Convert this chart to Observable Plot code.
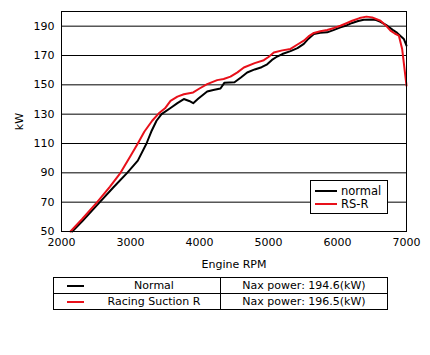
<!DOCTYPE html>
<html>
<head>
<meta charset="utf-8">
<script src="https://cdn.jsdelivr.net/npm/d3@7"></script>
<script src="https://cdn.jsdelivr.net/npm/@observablehq/plot@0.6"></script>
<style>
  html, body { margin: 0; padding: 0; background: #fff; }
  body { width: 430px; height: 355px; font-family: "DejaVu Sans", Verdana, sans-serif; color: #000; }
  #wrap { position: relative; width: 430px; height: 355px; }
  #chart { position: absolute; left: 0; top: 0; }
  .leg { position: absolute; left: 310px; top: 180px; width: 76px; height: 32px; border: 1px solid #000; background: #fff; font-size: 11.5px; }
  .leg .row { position: absolute; left: 0; height: 14px; line-height: 14px; }
  .leg .sw { position: absolute; left: 4px; top: 6px; width: 22px; height: 2px; }
  .leg .tx { position: absolute; left: 30px; top: 0; white-space: nowrap; }
  table.tb { position: absolute; left: 53px; top: 277px; border-collapse: collapse; font-size: 11px; }
  table.tb td { border: 1px solid #000; height: 15px; padding: 0; line-height: 15px; }
  .swt { display: inline-block; width: 17px; height: 2px; vertical-align: middle; }
</style>
</head>
<body>
<div id="wrap">
  <div id="chart"></div>
  <div class="leg" id="leg"></div>
  <table class="tb" id="tb"></table>
</div>
<script>
// ---- data ----
const seriesNames = ["normal", "RS-R"];
const tableNames = ["Normal", "Racing Suction R"];
const maxPower = [194.6, 196.5];
const seriesColors = ["#000000", "#e8101a"];

const rpmNormal = [2155, 2300, 2555, 2750, 2952, 3106, 3232, 3300, 3377, 3450, 3580, 3680, 3773, 3850, 3909, 3980, 4111, 4200, 4304, 4362, 4507, 4600, 4691, 4800, 4900, 4981, 5050, 5126, 5200, 5319, 5420, 5512, 5580, 5657, 5750, 5851, 5950, 6043, 6130, 6213, 6300, 6381, 6502, 6560, 6623, 6720, 6800, 6865, 6961, 7000];
const kwNormal = [50, 57, 70, 80, 90, 98.3, 110, 118, 125.5, 130, 134.2, 137.5, 140.3, 139, 137.5, 140.5, 145.4, 146.5, 147.5, 151.5, 151.8, 155, 158.4, 160.5, 162, 164, 167, 169.3, 171, 173, 175, 177.9, 181.5, 184.7, 185.5, 185.8, 187.5, 189.2, 190.5, 192.2, 193.5, 194.4, 194.6, 194.2, 193, 190.3, 187.5, 185.4, 181.3, 176.7];

const rpmRS = [2130, 2300, 2517, 2700, 2855, 3000, 3106, 3200, 3314, 3420, 3500, 3580, 3680, 3773, 3909, 4000, 4111, 4256, 4350, 4449, 4550, 4643, 4800, 4932, 5000, 5077, 5200, 5319, 5420, 5512, 5580, 5657, 5750, 5851, 5950, 6043, 6130, 6213, 6320, 6420, 6502, 6623, 6700, 6768, 6830, 6889, 6937, 7000];
const kwRS = [50, 58.5, 70, 80.5, 90, 101.5, 110, 118, 125.5, 131, 134, 139.1, 142, 143.6, 144.8, 147.5, 150.5, 153.2, 154, 155.6, 158.5, 161.8, 164.8, 166.8, 169, 172, 173.5, 174.5, 177.5, 180.1, 183, 185.4, 186.5, 187.4, 188.8, 190.3, 192, 193.7, 195.5, 196.5, 196, 193.7, 190.5, 187, 185, 183.6, 174.5, 149.5];

const xTicks = [2000, 3000, 4000, 5000, 6000, 7000];
const yTicks = [50, 70, 90, 110, 130, 150, 170, 190];

// ---- build tables ----
const normal = rpmNormal.map((r, i) => ({rpm: r, kw: kwNormal[i]}));
const rs = rpmRS.map((r, i) => ({rpm: r, kw: kwRS[i]}));

const chart = Plot.plot({
  width: 430,
  height: 272,
  marginLeft: 61,
  marginRight: 24,
  marginTop: 11,
  marginBottom: 41,
  style: {fontFamily: "DejaVu Sans, Verdana, sans-serif", fontSize: "11px", color: "#000", background: "transparent"},
  x: {domain: [2000, 7000], ticks: xTicks, tickFormat: d => String(d), tickSize: 0, tickPadding: 7, label: "Engine RPM", labelAnchor: "center", labelArrow: "none", labelOffset: 36},
  y: {domain: [50, 200], ticks: yTicks, tickSize: 0, tickPadding: 7, label: "kW", labelAnchor: "center", labelArrow: "none", labelOffset: 46},
  marks: [
    Plot.ruleY(yTicks, {stroke: "#000", strokeWidth: 1, strokeOpacity: 1}),
    Plot.line(normal, {x: "rpm", y: "kw", stroke: seriesColors[0], strokeWidth: 2}),
    Plot.line(rs, {x: "rpm", y: "kw", stroke: seriesColors[1], strokeWidth: 2}),
    Plot.frame({stroke: "#000", strokeWidth: 1})
  ]
});
document.getElementById("chart").appendChild(chart);

// inner legend
const leg = document.getElementById("leg");
seriesNames.forEach((n, i) => {
  const row = document.createElement("div");
  row.className = "row";
  row.style.top = (3 + i * 13) + "px";
  row.innerHTML = `<span class="sw" style="background:${seriesColors[i]}"></span><span class="tx">${n}</span>`;
  leg.appendChild(row);
});

// bottom table
const tb = document.getElementById("tb");
tableNames.forEach((n, i) => {
  const tr = document.createElement("tr");
  tr.innerHTML = `<td style="width:166px;"><span style="display:inline-block;width:30px;padding-left:13px;"><span class="swt" style="background:${seriesColors[i]}"></span></span><span style="display:inline-block;width:114px;text-align:center;">${n}</span></td>` +
    `<td style="width:166px;text-align:center;">Nax power: ${maxPower[i].toFixed(1)}(kW)</td>`;
  tb.appendChild(tr);
});
</script>
</body>
</html>
